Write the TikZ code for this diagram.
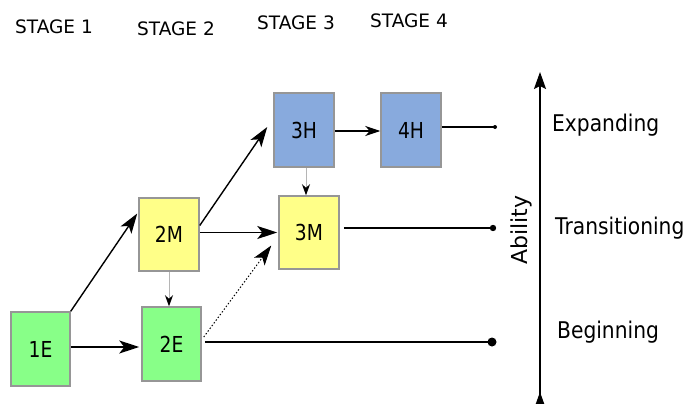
\documentclass[tikz,border=0pt]{standalone}
\usepackage{fontspec}
\setmainfont{DejaVu Sans}
\usetikzlibrary{arrows.meta}
\definecolor{gbox}{RGB}{136,255,136}
\definecolor{ybox}{RGB}{255,255,136}
\definecolor{bbox}{RGB}{136,170,221}
\definecolor{edge}{RGB}{150,150,150}
\tikzset{
  box/.style={draw=edge, line width=1.5pt, minimum width=59pt, minimum height=74pt, inner sep=0pt},
  blab/.style={font=\fontsize{22}{22}\selectfont, xscale=0.85, inner sep=0pt},
  big/.style={-{Stealth[length=20pt,width=13pt,inset=5pt]}, line width=1.4pt},
  mid/.style={-{Stealth[length=15pt,width=10pt,inset=4.5pt]}, line width=1.2pt},
  thin/.style={draw=edge!70, line width=0.8pt, -{Stealth[length=11pt,width=8pt,inset=3.5pt,color=black]}},
  lvl/.style={line width=1.3pt},
  hdr/.style={font=\fontsize{18.5}{18.5}\selectfont, anchor=west, inner sep=0pt},
  lab/.style={font=\fontsize{23}{23}\selectfont, xscale=0.88, anchor=west, inner sep=0pt}
}
\begin{document}
\begin{tikzpicture}[x=1pt,y=-1pt]
\useasboundingbox (0,0) rectangle (691,404);
% headers
\node[hdr] (s1) at (15,27) {STAGE 1};
\node[hdr] (s2) at (137,29) {STAGE 2};
\node[hdr] (s3) at (257,23) {STAGE 3};
\node[hdr] (s4) at (370,21) {STAGE 4};
% boxes
\node[box, fill=gbox] (1E) at (40.5,349) {};
\node[box, fill=gbox] (2E) at (171.5,344) {};
\node[box, fill=ybox, minimum width=60pt, minimum height=73pt] (2M) at (169,234.5) {};
\node[box, fill=bbox, minimum width=60pt] (3H) at (304,130) {};
\node[box, fill=bbox, minimum width=60pt] (4H) at (411,130) {};
\node[box, fill=ybox, minimum width=60pt, minimum height=73pt] (3M) at (309,232.5) {};
\node[blab] (t1E) at (1E.center) {1E};
\node[blab] (t2E) at (2E.center) {2E};
\node[blab] (t2M) at (2M.center) {2M};
\node[blab] (t3H) at (3H.center) {3H};
\node[blab] (t4H) at (4H.center) {4H};
\node[blab] (t3M) at (3M.center) {3M};
% level end points
\coordinate (d1) at (495,127);
\coordinate (d2) at (493,228);
\coordinate (d3) at (492,342);
% arrows
\draw[big] (1E.north east) -- ([yshift=21pt,xshift=-1pt]2M.west);
\draw[big] ([yshift=2pt]1E.east) -- ([yshift=-3pt,xshift=-2pt]2E.west);
\draw[big] ([yshift=9pt]2M.east) -- ([yshift=3pt,xshift=-6pt]3H.west);
\draw[big] ([yshift=2pt]2M.east) -- ([xshift=-1pt]3M.west);
\draw[big, dotted, line width=1pt] ([yshift=7pt,xshift=2pt]2E.east) -- ([yshift=-13pt,xshift=-7pt]3M.west);
\draw[thin] (2M.south) -- (2M.south |- 2E.north);
\draw[thin] ([xshift=2pt]3H.south) -- ([xshift=2pt]3H.south |- 3M.north);
\draw[mid] ([yshift=-1pt]3H.east) -- ([yshift=-1pt]4H.west);
% level lines
\draw[lvl] (4H.east |- d1) -- (d1);
\fill (d1) circle (2pt);
\draw[lvl] ([xshift=4pt]3M.east |- d2) -- (d2);
\fill (d2) circle (3.2pt);
\draw[lvl] ([xshift=3pt]2E.east |- d3) -- (d3);
\fill (d3) circle (4.5pt);
% axis
\coordinate (atop) at (540,72);
\coordinate (abot) at (540,410);
\coordinate (abtip) at (540,392);
\draw[line width=2pt, -{Stealth[length=17pt,width=12pt,inset=3pt]}] (abot) -- (atop);
\draw[line width=2pt, -{Stealth[length=17pt,width=12pt,inset=3pt]}] (abot) -- (abtip);
\node[font=\fontsize{22}{22}\selectfont, rotate=90] (ab) at (521,230) {Ability};
% labels
\node[lab] (ex) at (552,125) {Expanding};
\node[lab] (tr) at (555,228) {Transitioning};
\node[lab] (be) at (557,332) {Beginning};
\end{tikzpicture}
\end{document}
